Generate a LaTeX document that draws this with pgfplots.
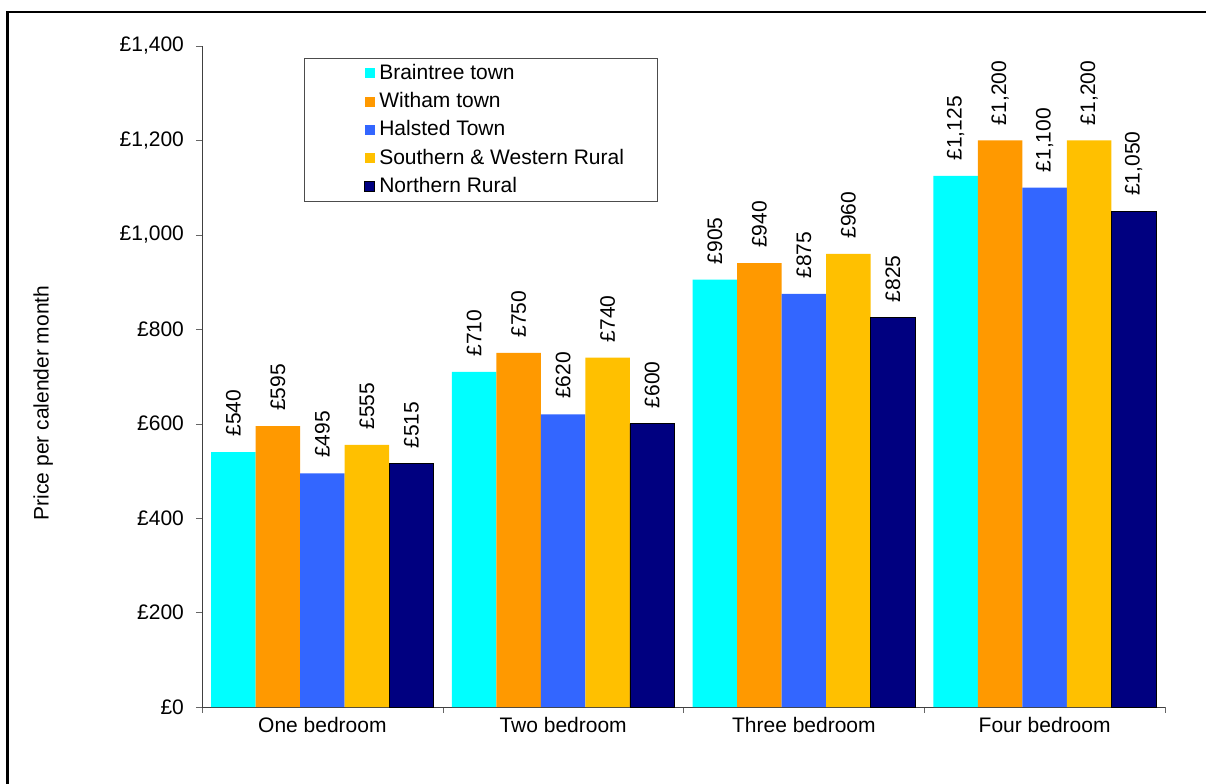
\documentclass[border=0pt]{standalone}
\usepackage{fontspec}
\setmainfont{Liberation Sans}
\usepackage{pgfplots}
\pgfplotsset{compat=1.18}
\definecolor{cBraintree}{RGB}{0,255,255}
\definecolor{cWitham}{RGB}{255,153,0}
\definecolor{cHalsted}{RGB}{51,102,255}
\definecolor{cSouthern}{RGB}{255,192,0}
\definecolor{cNorthern}{RGB}{0,0,128}
\pgfplotsset{
  sqfill/.style={legend image code/.code={\path (-15.5pt,0pt); \fill[#1, draw=none] (0pt,-2.5pt) rectangle (5pt,2.5pt);}},
  sqdraw/.style={legend image code/.code={\path (-15.5pt,0pt); \draw[#1, draw=black] (0pt,-2.5pt) rectangle (5pt,2.5pt);}},
}
\begin{document}
\begin{tikzpicture}
\useasboundingbox (0,0) rectangle (603pt,-391.5pt);
\draw[line width=1.1pt] (3.7pt,-400pt) -- (3.7pt,-5.8pt) -- (610pt,-5.8pt);
\begin{axis}[
  at={(101pt,-353.5pt)}, anchor=south west,
  scale only axis, width=481.5pt, height=330.5pt,
  font=\fontsize{10.5}{12.6}\selectfont,
  ybar=0pt, bar width=0.185,
  xmin=-0.5, xmax=3.5, ymin=0, ymax=1400,
  axis x line*=bottom, axis y line*=left,
  axis line style={-, black!75},
  tick style={black!60},
  tick align=outside,
  xtick={0,1,2,3},
  xticklabels={One bedroom,Two bedroom,Three bedroom,Four bedroom},
  xticklabel style={yshift=1.5pt},
  yticklabel style={xshift=-2.5pt},
  major x tick style={draw=none},
  minor xtick={-0.5,0.5,1.5,2.5,3.5},
  minor tick length=2.8pt, major tick length=3pt,
  ytick={0,200,400,600,800,1000,1200,1400},
  yticklabel={£\pgfmathprintnumber{\tick}},
  /pgf/number format/.cd, fixed, precision=0, 1000 sep={,}, assume math mode=true,
  /pgfplots/.cd,
  ylabel={Price per calender month},
  ylabel style={at={(axis description cs:-0.165,0.46)}, anchor=center, rotate=0},
  nodes near coords={£\pgfmathprintnumber{\pgfplotspointmeta}},
  nodes near coords style={rotate=90, anchor=west, inner xsep=7.5pt, font=\fontsize{10.5}{12.6}\selectfont},
  legend style={at={(axis description cs:0.106,0.982)}, anchor=north west,
    draw=black!70, fill=white, font=\fontsize{10.5}{12.6}\selectfont,
    inner xsep=14.5pt, inner ysep=1pt, row sep=1pt},
  legend cell align=left,
]
\addplot[fill=cBraintree, draw=none, sqfill] coordinates {(0,540) (1,710) (2,905) (3,1125)};
\addplot[fill=cWitham, draw=none, sqfill] coordinates {(0,595) (1,750) (2,940) (3,1200)};
\addplot[fill=cHalsted, draw=none, sqfill] coordinates {(0,495) (1,620) (2,875) (3,1100)};
\addplot[fill=cSouthern, draw=none, sqfill] coordinates {(0,555) (1,740) (2,960) (3,1200)};
\addplot[fill=cNorthern, draw=black, sqdraw] coordinates {(0,515) (1,600) (2,825) (3,1050)};
\legend{Braintree town,Witham town,Halsted Town,Southern \& Western Rural,Northern Rural}
\end{axis}
\end{tikzpicture}
\end{document}
